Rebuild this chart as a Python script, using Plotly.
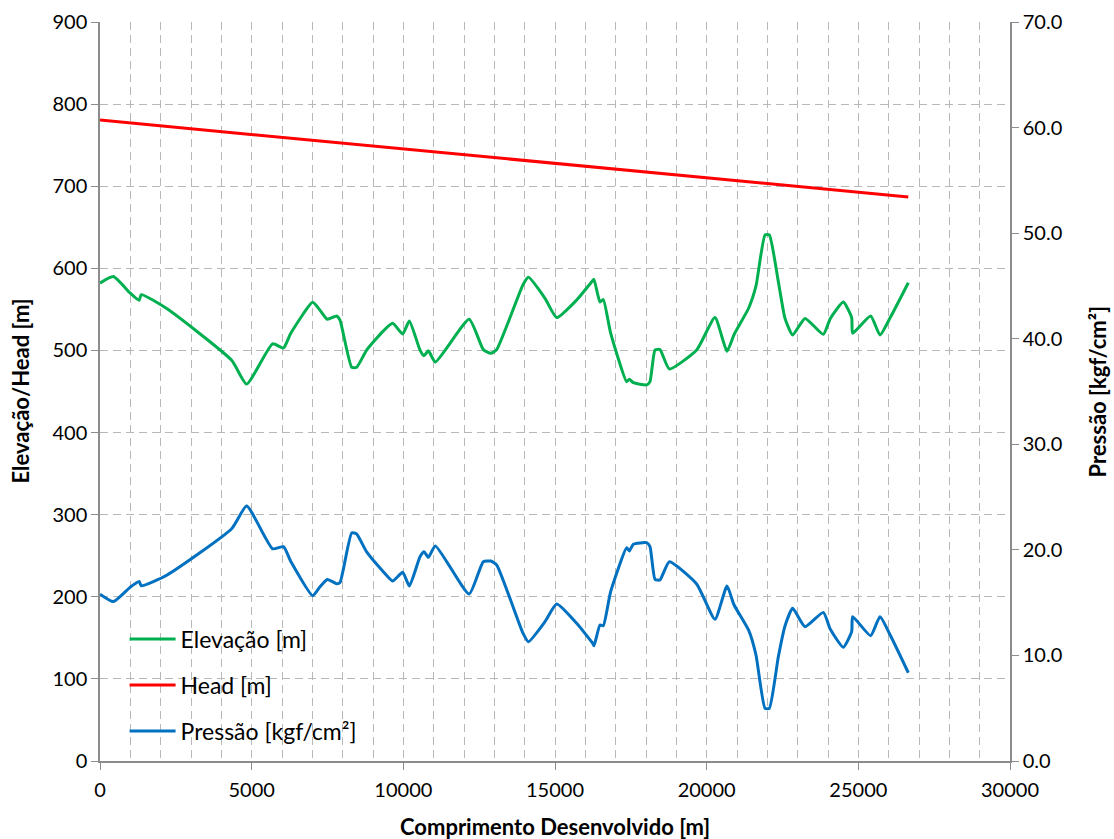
import plotly.graph_objects as go

# Chainage of the profile stations [m]
chainage = [0, 440, 990, 1290, 1360, 2200, 4340, 4835, 5690, 6050, 6290, 7011, 7253,
            7495, 7802, 7912, 8297, 8461, 8791, 9319, 9648, 9978, 10198, 10549, 10681,
            10824, 11055, 12170, 12637, 12880, 13077, 13945, 14121, 14670, 15055, 15714,
            16241, 16285, 16483, 16593, 16835, 17362, 17450, 17582, 18021, 18132, 18297,
            18461, 18769, 19670, 20274, 20670, 20900, 21390, 21626, 21923, 22066, 22363,
            22582, 22835, 23242, 23846, 24077, 24505, 24780, 24813, 25406, 25714, 26066,
            26648]

# Ground elevation along the line [m]
elevacao = [582, 590, 570, 561, 568, 551, 488, 459, 508, 503, 521, 558.6, 549,
            538, 542, 537, 479.5, 479.5, 500.5, 523, 533, 520, 536, 500.5, 493.6,
            499.5, 486, 538, 501, 496.5, 501, 580, 589, 563.5, 540, 561.4,
            585, 586.6, 559, 562, 521, 462, 465, 460.7, 458, 462, 500.5,
            501, 477.4, 500.5, 540, 499, 519, 552, 578.5, 640.6, 640.6, 583.7,
            539, 518.8, 539, 519.6, 539, 559, 540, 521, 542, 518.8, 541,
            582.5]

# Operating pressure along the line [kgf/cm²]
pressao = [15.8, 15.1, 16.45, 17.0, 16.6, 17.6, 22.0, 24.15, 20.1, 20.3, 18.9, 15.66, 16.5,
           17.2, 16.8, 16.9, 21.6, 21.5, 19.8, 18.0, 17.05, 17.87, 16.58, 19.35, 19.83,
           19.29, 20.37, 15.82, 18.88, 18.94, 18.57, 12.1, 11.3, 13.2, 14.87, 13.04,
           11.15, 10.92, 12.88, 12.82, 16.04, 20.2, 19.9, 20.53, 20.68, 20.3, 17.21,
           17.15, 18.88, 16.77, 13.42, 16.58, 14.8, 12.35, 10.04, 4.99, 4.99, 9.88,
           12.79, 14.46, 12.72, 14.08, 12.47, 10.77, 12.25, 13.67, 11.87, 13.67, 11.84,
           8.36]

# Hydraulic head line [m]
head_x = [0, 26648]
head = [780.6, 686.9]

# Axis titles
x_title = "Comprimento Desenvolvido [m]"
y_title = "Elevação/Head [m]"
y2_title = "Pressão [kgf/cm²]"

FONT = "Lato"
GRID = "#b8b8b8"
AXIS = "#8c8c8c"
DASH = "8px,5px"

fig = go.Figure()
fig.add_trace(go.Scatter(
    x=chainage, y=elevacao, name="Elevação [m]", mode="lines",
    line=dict(color="#00B050", width=3, shape="spline", smoothing=0.5),
    legendgroup="a", yaxis="y"))
fig.add_trace(go.Scatter(
    x=head_x, y=head, name="Head [m]", mode="lines",
    line=dict(color="#FF0000", width=3),
    legendgroup="b", yaxis="y"))
fig.add_trace(go.Scatter(
    x=chainage, y=pressao, name="Pressão [kgf/cm²]", mode="lines",
    line=dict(color="#0070C0", width=3, shape="spline", smoothing=0.5),
    legendgroup="c", yaxis="y2"))

title_font = dict(family=FONT, size=22, color="#000000")

fig.update_layout(
    width=1114, height=839,
    margin=dict(l=100, r=104, t=22, b=78, autoexpand=False),
    paper_bgcolor="white", plot_bgcolor="white",
    font=dict(family=FONT, size=20, color="#000000"),
    showlegend=True,
    legend=dict(
        x=0.027, y=0.194, xanchor="left", yanchor="top",
        bgcolor="rgba(0,0,0,0)", borderwidth=0,
        traceorder="grouped", tracegroupgap=13, itemwidth=46,
        font=dict(family=FONT, size=23, color="#000000")),
    xaxis=dict(
        range=[0, 30000], dtick=5000, tick0=0, tickformat="d",
        showgrid=True, gridcolor=GRID, griddash=DASH, gridwidth=1.3,
        minor=dict(dtick=1000, showgrid=True, gridcolor=GRID, griddash=DASH, gridwidth=1.3),
        showline=True, linecolor=AXIS, linewidth=1.5,
        ticks="outside", ticklen=7, tickcolor=AXIS, ticklabelstandoff=3,
        tickfont=dict(family=FONT, size=20),
        zeroline=False, automargin=False),
    yaxis=dict(
        range=[0, 900], dtick=100, tick0=0,
        showgrid=True, gridcolor=GRID, griddash=DASH, gridwidth=1.3,
        showline=True, linecolor=AXIS, linewidth=1.5,
        ticks="outside", ticklen=7, tickcolor=AXIS,
        tickfont=dict(family=FONT, size=20),
        zeroline=False, automargin=False),
    yaxis2=dict(
        range=[0, 70], dtick=10, tick0=0, tickformat=".1f",
        overlaying="y", side="right",
        showgrid=False, zeroline=False,
        showline=True, linecolor=AXIS, linewidth=1.5,
        ticks="outside", ticklen=7, tickcolor=AXIS,
        tickfont=dict(family=FONT, size=20), automargin=False),
    annotations=[
        dict(text=f"<b>{x_title}</b>", xref="paper", yref="paper",
             x=0.5, y=-0.0893, xanchor="center", yanchor="middle",
             showarrow=False, font=title_font),
        dict(text=f"<b>{y_title}</b>", xref="paper", yref="paper",
             x=-0.0879, y=0.5, xanchor="center", yanchor="middle",
             textangle=-90, showarrow=False, font=title_font),
        dict(text=f"<b>{y2_title}</b>", xref="paper", yref="paper",
             x=1.0967, y=0.5, xanchor="center", yanchor="middle",
             textangle=-90, showarrow=False, font=title_font),
    ],
)

fig.write_html("out.html")
